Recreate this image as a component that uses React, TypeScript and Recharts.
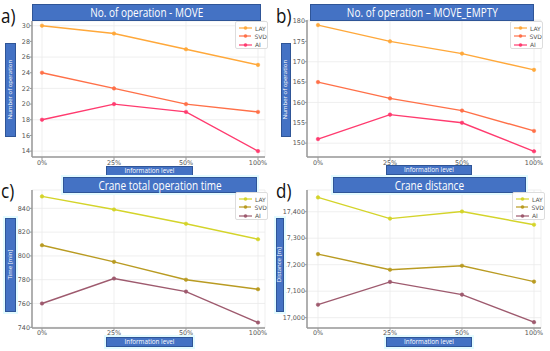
import React from 'react';
import { LineChart, Line, XAxis, YAxis, CartesianGrid } from 'recharts';

const categories = ['0%', '25%', '50%', '100%'];
const seriesNames = ['LAY', 'SVD', 'AI'];

const moveLAY = [30, 29, 27, 25];
const moveSVD = [24, 22, 20, 19];
const moveAI = [18, 20, 19, 14];
const moveTicks = [14, 16, 18, 20, 22, 24, 26, 28, 30];

const emptyLAY = [179, 175, 172, 168];
const emptySVD = [165, 161, 158, 153];
const emptyAI = [151, 157, 155, 148];
const emptyTicks = [150, 155, 160, 165, 170, 175, 180];

const timeLAY = [850, 839, 827, 814];
const timeSVD = [809, 795, 780, 772];
const timeAI = [760, 781, 770, 744];
const timeTicks = [740, 760, 780, 800, 820, 840];

const distLAY = [17454, 17374, 17401, 17351];
const distSVD = [17240, 17181, 17196, 17136];
const distAI = [17049, 17135, 17087, 16983];
const distTicks = [17000, 17100, 17200, 17300, 17400];

const titles = ['No. of operation - MOVE', 'No. of operation \u2013 MOVE_EMPTY', 'Crane total operation time', 'Crane distance'];
const yLabels = ['Number of operation', 'Number of operation', 'Time [min]', 'Distance [m]'];
const xLabel = 'Information level';
const letters = ['a)', 'b)', 'c)', 'd)'];

const warm = ['#FFA83A', '#FF7048', '#FF3B6F'];
const olive = ['#D4D42A', '#B99B22', '#9E5A6E'];

const build = (a: number[], b: number[], c: number[]) =>
  categories.map((level, i) => ({ level, LAY: a[i], SVD: b[i], AI: c[i] }));

const BLUE = '#4472C4';
const BORDER = '#2F5597';
const FONT = '"Open Sans", "Noto Sans", sans-serif';

type PanelCfg = {
  left: number; top: number; h: number;
  plotTop: number; xAxisH: number; rightM: number; padL: number; padR: number;
  data: any[]; ticks: number[]; domain: [number, number]; colors: string[];
  fmt?: (v: number) => string;
  xTickSize: number;
  title: { x: number; y: number; w: number; h: number };
  ylab: { x: number; y: number; w: number; h: number };
  xlab: { x: number; y: number; w: number; h: number };
  legend: { x: number; y: number };
  glow?: boolean;
};

const panels: PanelCfg[] = [
  {
    left: 0, top: 0, h: 175, plotTop: 21, xAxisH: 18, rightM: 10, padL: 10, padR: 7, xTickSize: 3,
    data: build(moveLAY, moveSVD, moveAI), ticks: moveTicks, domain: [13.25, 30.6], colors: warm,
    title: { x: 32, y: 4, w: 229, h: 17 }, ylab: { x: 5, y: 43, w: 11, h: 94 },
    xlab: { x: 106, y: 166, w: 87, h: 10 }, legend: { x: 235, y: 21 },
  },
  {
    left: 275, top: 0, h: 175, plotTop: 20, xAxisH: 18, rightM: 9, padL: 11, padR: 7, xTickSize: 3,
    data: build(emptyLAY, emptySVD, emptyAI), ticks: emptyTicks, domain: [146.6, 180.25], colors: warm,
    title: { x: 310, y: 4, w: 224, h: 17 }, ylab: { x: 281, y: 43, w: 10, h: 94 },
    xlab: { x: 386, y: 165, w: 86, h: 10 }, legend: { x: 510, y: 21 },
  },
  {
    left: 0, top: 175, h: 176, plotTop: 15, xAxisH: 23, rightM: 10, padL: 10, padR: 7, xTickSize: 2,
    data: build(timeLAY, timeSVD, timeAI), ticks: timeTicks, domain: [739.4, 855.4], colors: olive,
    title: { x: 63, y: 177, w: 194, h: 16 }, ylab: { x: 5, y: 218, w: 11, h: 94 },
    xlab: { x: 106, y: 337, w: 87, h: 10 }, legend: { x: 235, y: 192 }, glow: true,
  },
  {
    left: 275, top: 175, h: 176, plotTop: 15, xAxisH: 23, rightM: 9, padL: 11, padR: 7, xTickSize: 2,
    data: build(distLAY, distSVD, distAI), ticks: distTicks, domain: [16961, 17482], colors: olive,
    fmt: (v: number) => v.toLocaleString('en-US'),
    title: { x: 333, y: 177, w: 193, h: 16 }, ylab: { x: 276, y: 218, w: 8, h: 94 },
    xlab: { x: 386, y: 337, w: 86, h: 10 }, legend: { x: 512, y: 192 }, glow: true,
  },
];

const tickStyle = { fontSize: 6.4, fill: '#555', fontFamily: '"DejaVu Sans", sans-serif' };

function Panel({ p }: { p: PanelCfg }) {
  return (
    <div style={{ position: 'absolute', left: p.left, top: p.top }}>
      <LineChart width={275} height={p.h} data={p.data}
        margin={{ top: p.plotTop, right: p.rightM, left: 0, bottom: 0 }}>
        <CartesianGrid stroke="#ebebeb" strokeWidth={0.8} />
        <XAxis dataKey="level" padding={{ left: p.padL, right: p.padR }} height={p.xAxisH}
          tick={tickStyle} tickSize={p.xTickSize} tickMargin={0}
          axisLine={{ stroke: '#999', strokeWidth: 1.5 }} tickLine={{ stroke: '#999' }} />
        <YAxis type="number" domain={p.domain} ticks={p.ticks} allowDataOverflow width={32}
          tick={tickStyle} tickSize={2} tickMargin={0} tickFormatter={p.fmt}
          axisLine={{ stroke: '#999', strokeWidth: 1.5 }} tickLine={{ stroke: '#999' }} />
        {seriesNames.map((s, i) => (
          <Line key={s} dataKey={s} stroke={p.colors[i]} strokeWidth={1.4}
            dot={{ r: 1.8, fill: p.colors[i], stroke: p.colors[i], strokeWidth: 0.5 }}
            isAnimationActive={false} />
        ))}
      </LineChart>
    </div>
  );
}

function Box({ b, children, glow, fontSize, vertical, squeeze }: any) {
  return (
    <div style={{
      position: 'absolute', left: b.x, top: b.y, width: b.w, height: b.h, boxSizing: 'border-box',
      background: BLUE, border: `1px solid ${BORDER}`, color: '#fff', fontFamily: FONT,
      display: 'flex', alignItems: 'center', justifyContent: 'center', overflow: 'visible',
      boxShadow: glow ? '0 0 0 2px #e3fbff' : undefined,
    }}>
      <span style={{
        fontSize, whiteSpace: 'nowrap', lineHeight: 1.2,
        transform: vertical ? 'rotate(-90deg)' : squeeze ? `scaleX(${squeeze})` : undefined,
        display: 'inline-block',
      }}>{children}</span>
    </div>
  );
}

function LegendBox({ x, y, colors }: { x: number; y: number; colors: string[] }) {
  return (
    <div style={{
      position: 'absolute', left: x, top: y, width: 33, height: 28, boxSizing: 'border-box',
      background: '#fff', border: '1px solid #ddd', borderRadius: 2, fontFamily: '"DejaVu Sans", sans-serif',
      fontSize: 6, color: '#555', padding: '2px 0 0 3px',
    }}>
      {seriesNames.map((s, i) => (
        <div key={s} style={{ display: 'flex', alignItems: 'center', height: 8.3 }}>
          <svg width={13} height={6} style={{ marginRight: 3 }}>
            <line x1={0} y1={3} x2={13} y2={3} stroke={colors[i]} strokeWidth={1.2} />
            <circle cx={6.5} cy={3} r={1.8} fill={colors[i]} />
          </svg>
          <span>{s}</span>
        </div>
      ))}
    </div>
  );
}

export default function App() {
  return (
    <div style={{ position: 'fixed', left: 0, top: 0, width: 550, height: 351, background: '#fff', overflow: 'hidden' }}>
      {panels.map((p, i) => <Panel key={i} p={p} />)}
      {panels.map((p, i) => (
        <React.Fragment key={'o' + i}>
          <Box b={p.title} glow={p.glow} fontSize={12.5} squeeze={0.8}>{titles[i]}</Box>
          <Box b={p.ylab} glow={p.glow} fontSize={6} vertical>{yLabels[i]}</Box>
          <Box b={p.xlab} glow={p.glow} fontSize={6.3}>{xLabel}</Box>
          <LegendBox x={p.legend.x} y={p.legend.y} colors={p.colors} />
          <div style={{
            position: 'absolute', left: p.left + 1, top: p.top + 2, fontFamily: FONT,
            fontSize: 20, lineHeight: 1.4, color: '#111', transform: 'scaleX(0.85)', transformOrigin: 'left',
          }}>{letters[i]}</div>
        </React.Fragment>
      ))}
    </div>
  );
}
